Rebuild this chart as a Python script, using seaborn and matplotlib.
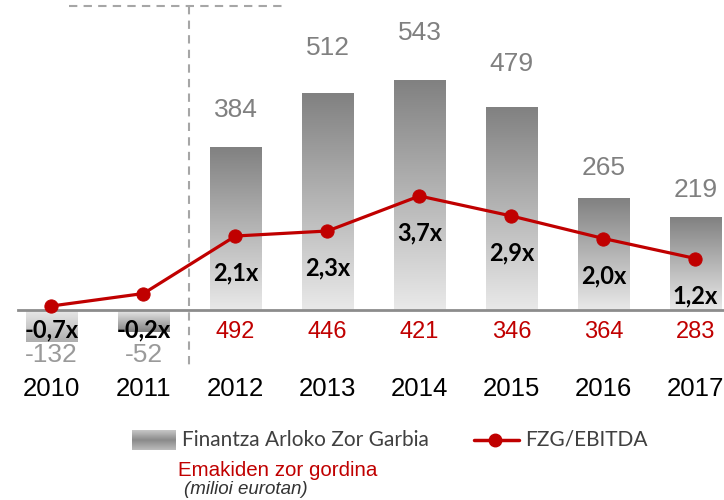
import numpy as np
import pandas as pd
import seaborn as sns
import matplotlib.pyplot as plt
from matplotlib.colors import LinearSegmentedColormap
from matplotlib.lines import Line2D

# data
years = ["2010", "2011", "2012", "2013", "2014", "2015", "2016", "2017"]
net_debt = [-132, -52, 384, 512, 543, 479, 265, 219]
ratio = [-0.7, -0.2, 2.1, 2.3, 3.7, 2.9, 2.0, 1.2]
gross_years = ["2012", "2013", "2014", "2015", "2016", "2017"]
gross_debt = [492, 446, 421, 346, 364, 283]

RED = "#c00000"

sns.set_style("white")
plt.rcParams["font.family"] = ["Liberation Sans", "DejaVu Sans"]

W, H = 724, 500
fig = plt.figure(figsize=(7.24, 5.0), dpi=100)
ax = fig.add_axes([18 / W, 1 - 342 / H, 1 - 18 / W, 342 / H])

df = pd.DataFrame({"year": years, "net": net_debt, "ratio": ratio})
sns.barplot(data=df, x="year", y="net", color="#a0a0a0", width=0.56,
            saturation=1, ax=ax, zorder=2)

# gradient fill on the bars (negative bars are cut at the bottom of the axes)
cm_bar = LinearSegmentedColormap.from_list("g", ["#e9e9e9", "#818181"])
grad = np.linspace(0, 1, 256).reshape(-1, 1)
for p, v in zip(list(ax.patches), net_debt):
    p.set_edgecolor("none")
    p.set_clip_on(True)
    p.set_clip_box(ax.bbox)
    x0, y0 = p.get_x(), p.get_y()
    w, h = p.get_width(), p.get_height()
    g = grad if v >= 0 else grad[::-1]
    im = ax.imshow(g, cmap=cm_bar, aspect="auto", origin="lower",
                   extent=[x0, x0 + w, min(y0, y0 + h), max(y0, y0 + h)],
                   zorder=3)
    im.set_clip_path(p)
    im.set_clip_box(ax.bbox)

ax.set_xlim(-0.364, 7.31)
ax.set_ylim(-75.8, 734.8)

for s in ["top", "right", "left"]:
    ax.spines[s].set_visible(False)
ax.spines["bottom"].set_position(("data", 0))
ax.spines["bottom"].set_color("#8c8c8c")
ax.spines["bottom"].set_linewidth(2)
ax.spines["bottom"].set_zorder(4)
ax.set_yticks([])
ax.set_xlabel("")
ax.set_ylabel("")
ax.set_xticks(range(len(years)))
ax.set_xticks(np.arange(0.5, len(years) - 0.5, 1), minor=True)
ax.tick_params(axis="x", which="major", length=0, pad=48.5, labelsize=18.5,
               labelcolor="black")
ax.tick_params(axis="x", which="minor", length=5, width=1.5, color="#8c8c8c",
               direction="out")

# value labels for net debt
for i, v in enumerate(net_debt):
    if v >= 0:
        ax.text(i, 33.4 + 1.147 * v, str(v), ha="center", va="center",
                fontsize=19, color="#808080", zorder=6)
    else:
        ax.annotate(str(v), (i, 0), xytext=(0, -32.5), textcoords="offset points",
                    ha="center", va="center", fontsize=19, color="#9a9a9a",
                    annotation_clip=False, zorder=6)

# gross debt in red under the axis
for yr, v in zip(gross_years, gross_debt):
    ax.annotate(str(v), (years.index(yr), 0), xytext=(0, -16),
                textcoords="offset points", ha="center", va="center",
                fontsize=17, color=RED, annotation_clip=False, zorder=6)

# ratio line on secondary axis
ax2 = ax.twinx()
df["pos"] = np.arange(len(years))
sns.lineplot(data=df, x="pos", y="ratio", color=RED, lw=2.3, marker="o",
             markersize=9.5, markeredgecolor=RED, ax=ax2, zorder=5)
ax2.set_ylim(-2.14, 11.54)
ax2.set_xlim(-0.364, 7.31)
ax2.set_yticks([])
ax2.set_ylabel("")
ax2.set_xlabel("")
for s in ax2.spines.values():
    s.set_visible(False)

for i, r in enumerate(ratio):
    lab = f"{r:.1f}".replace(".", ",") + "x"
    if r >= 0:
        ax2.annotate(lab, (i, r), xytext=(0, -26.6), textcoords="offset points",
                     ha="center", va="center", fontsize=17, fontweight="bold",
                     family=["Lato", "DejaVu Sans"], color="black", zorder=7)
    else:
        ax.annotate(lab, (i, 0), xytext=(0, -14.4), textcoords="offset points",
                    ha="center", va="center", fontsize=17, fontweight="bold",
                    family=["Lato", "DejaVu Sans"], color="black",
                    annotation_clip=False, zorder=7)

# dashed separator
tr = ax.get_xaxis_transform()
ax.plot([1.5, 1.5], [1 - 6 / 342, 1 - 365 / 342], transform=tr, ls=(0, (4, 3)),
        color="#a6a6a6", lw=1.5, clip_on=False, zorder=1)
ax.plot([0.19, 2.56], [1 - 6 / 342, 1 - 6 / 342], transform=tr, ls=(0, (4, 3)),
        color="#a6a6a6", lw=1.5, clip_on=False, zorder=1)

# legend
lax = fig.add_axes([132 / W, 1 - 450 / H, 44 / W, 20 / H])
cm_leg = LinearSegmentedColormap.from_list("l", ["#c8c8c8", "#8a8a8a", "#bcbcbc"])
lax.imshow(grad, cmap=cm_leg, aspect="auto")
lax.axis("off")
fig.text(182 / W, 1 - 440 / H, "Finantza Arloko Zor Garbia", ha="left",
         va="center", fontsize=15, color="#404040", family=["Lato", "DejaVu Sans"])
fig.add_artist(Line2D([474 / W, 519 / W], [1 - 440 / H] * 2, color=RED, lw=2.5))
fig.add_artist(Line2D([495 / W], [1 - 440 / H], color=RED, marker="o",
                      markersize=9))
fig.text(525 / W, 1 - 440 / H, "FZG/EBITDA", ha="left", va="center",
         fontsize=15, color="#404040", family=["Lato", "DejaVu Sans"])
fig.text(178 / W, 1 - 470 / H, "Emakiden zor gordina", ha="left", va="center",
         fontsize=14.8, color=RED)
fig.text(184 / W, 1 - 490 / H, "(milioi eurotan)", ha="left", va="center",
         fontsize=13.5, style="italic", color="#333333")

fig.savefig("out.png", dpi=100)
